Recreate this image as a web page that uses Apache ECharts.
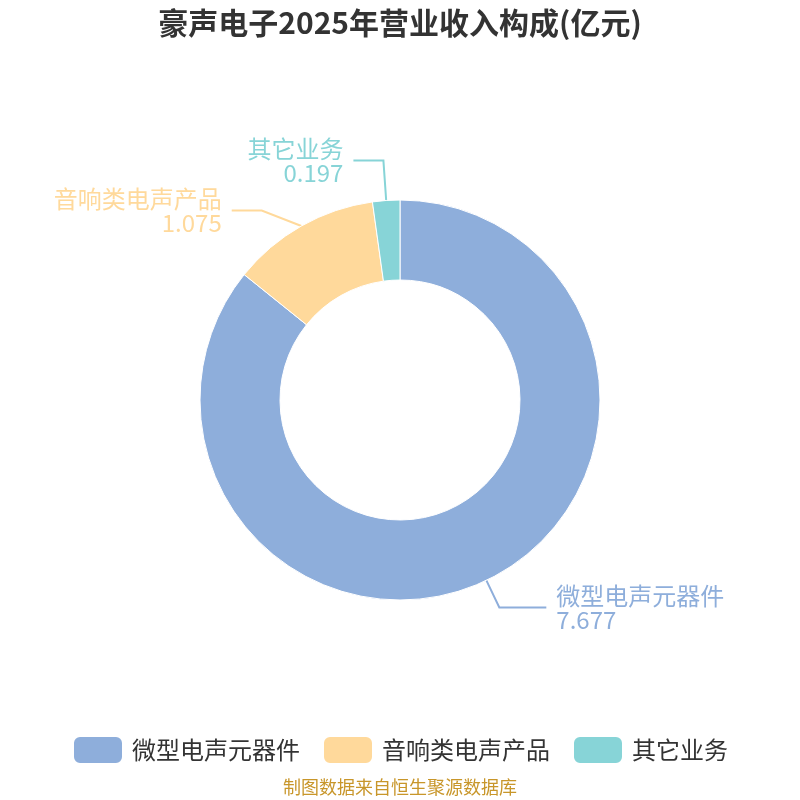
<!DOCTYPE html>
<html>
<head>
<meta charset="utf-8">
<script src="https://cdn.jsdelivr.net/npm/echarts@6/dist/echarts.min.js"></script>
<style>
html, body { margin: 0; padding: 0; background: #fff; }
#chart { width: 800px; height: 800px; }
</style>
</head>
<body>
<div id="chart"></div>
<script>
var categories = ['微型电声元器件', '音响类电声产品', '其它业务'];
var values = [7.677, 1.075, 0.197];
var colors = ['#8eaedb', '#ffd99b', '#87d4d7'];
// per-slice label line lengths (first segment, horizontal segment)
var lineLen = [30, 40, 40];
var lineLen2 = [47, 30, 30];

var pieData = [];
for (let i = 0; i < categories.length; i++) {
	pieData.push({
		name: categories[i],
		value: values[i],
		labelLine: { length: lineLen[i], length2: lineLen2[i] }
	});
}

var chart = echarts.init(document.getElementById('chart'));
chart.setOption({
	color: colors,
	title: {
		text: '豪声电子2025年营业收入构成(亿元)',
		left: 'center',
		top: 3,
		textStyle: {
			fontSize: 30,
			fontWeight: 'bold',
			color: '#333',
			fontFamily: 'Noto Sans CJK SC'
		}
	},
	legend: {
		data: categories,
		bottom: 30,
		left: 'center',
		icon: 'roundRect',
		itemWidth: 50,
		itemHeight: 28,
		itemGap: 22,
		textStyle: {
			fontSize: 24,
			color: '#333',
			padding: [0, 0, 0, 4],
			fontFamily: 'Noto Sans CJK SC'
		}
	},
	graphic: [{
		type: 'text',
		left: 'center',
		top: 778,
		style: {
			text: '制图数据来自恒生聚源数据库',
			fill: '#c8962a',
			fontSize: 18,
			fontFamily: 'Noto Sans CJK SC'
		}
	}],
	series: [{
		type: 'pie',
		center: ['50%', '50%'],
		radius: [120, 200],
		startAngle: 90,
		itemStyle: {
			borderColor: '#fff',
			borderWidth: 1
		},
		label: {
			formatter: '{b}\n{c}',
			fontSize: 24,
			lineHeight: 24,
			distanceToLabelLine: 10,
			color: 'inherit',
			fontFamily: 'Noto Sans CJK SC'
		},
		labelLine: {
			lineStyle: { width: 2 }
		},
		data: pieData
	}]
});
</script>
</body>
</html>
